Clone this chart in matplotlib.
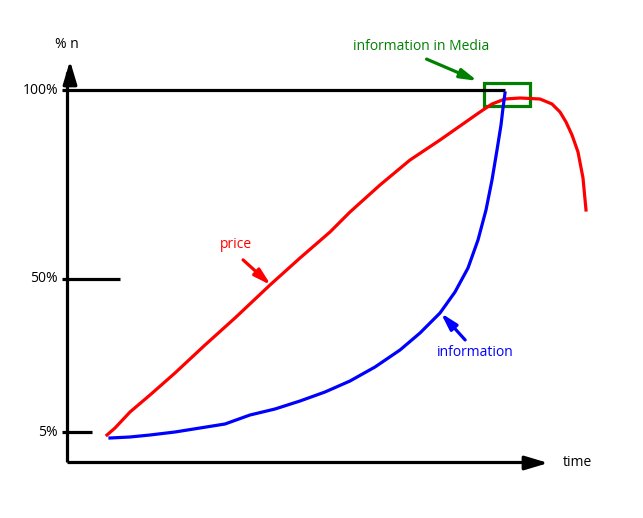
"""
Schema type "croquis" : prix vs diffusion de l'information dans le temps.
Coordonnees lues directement sur l'image de reference (repere en pixels).
"""
import matplotlib
matplotlib.use("Agg")
import matplotlib.pyplot as plt

W, H = 643, 518

# --- donnees (pixels, y vers le bas) -------------------------------------------
price_x = [107, 115, 130, 150, 175, 205, 235, 270, 300, 330, 350, 380, 410, 440,
           460, 480, 492, 505, 520, 540, 552, 560, 566, 572, 578, 583, 586]
price_y = [435, 428, 412, 395, 373, 345, 318, 285, 258, 232, 212, 185, 160, 140,
           126, 112, 104, 99, 98, 99, 104, 112, 122, 135, 152, 178, 210]

info_x = [110, 130, 150, 175, 200, 225, 250, 275, 300, 325, 350, 375, 400, 420,
          440, 455, 468, 478, 486, 492, 497, 501, 503, 505]
info_y = [438, 437, 435, 432, 428, 424, 415, 409, 401, 392, 381, 367, 350, 333,
          313, 292, 268, 240, 210, 180, 150, 125, 108, 93]

ticks_lbl = ["100%", "50%", "5%"]
ticks_y = [90, 279, 432]
ticks_end = [505, 120, 92]

fig = plt.figure(figsize=(W / 100, H / 100), dpi=100)
ax = fig.add_axes([0, 0, 1, 1])
ax.set_xlim(0, W)
ax.set_ylim(H, 0)
ax.axis("off")

lw = 2.3
fs = 10
font = "Open Sans"
big = "-|>,head_length=1.4,head_width=0.42"
small = "-|>,head_length=1.0,head_width=0.28"

# axes
ax.plot([67, 67], [462, 72], color="black", lw=lw, solid_capstyle="butt")
ax.plot([67, 535], [462, 462], color="black", lw=lw, solid_capstyle="butt")
ax.annotate("", xy=(70, 58), xytext=(70, 80),
            arrowprops=dict(arrowstyle=big, color="black", lw=lw))
ax.annotate("", xy=(551, 463), xytext=(530, 463),
            arrowprops=dict(arrowstyle=big, color="black", lw=lw))
ax.text(67, 44, "% n", ha="center", va="center", fontsize=fs, family=font)
ax.text(577, 463, "time", ha="center", va="center", fontsize=fs, family=font)

for lbl, y, x1 in zip(ticks_lbl, ticks_y, ticks_end):
    ax.plot([62, x1], [y, y], color="black", lw=lw, solid_capstyle="butt")
    ax.text(58, y, lbl, ha="right", va="center", fontsize=fs, family=font)

# courbes
ax.plot(price_x, price_y, color="red", lw=lw)
ax.plot(info_x, info_y, color="blue", lw=lw)

# encadre "information in Media"
ax.add_patch(plt.Rectangle((484, 83), 46, 23, fill=False, ec="green", lw=lw))
ax.annotate("", xy=(480, 82), xytext=(424, 58),
            arrowprops=dict(arrowstyle=small, color="green", lw=lw))
ax.text(421, 46, "information in Media", ha="center", va="center",
        fontsize=fs, color="green", family=font)

# etiquettes des courbes
ax.annotate("", xy=(273, 287), xytext=(241, 258),
            arrowprops=dict(arrowstyle=small, color="red", lw=lw))
ax.text(236, 245, "price", ha="center", va="center", fontsize=fs,
        color="red", family=font)

ax.annotate("", xy=(439, 311), xytext=(467, 342),
            arrowprops=dict(arrowstyle=small, color="blue", lw=lw))
ax.text(475, 352, "information", ha="center", va="center", fontsize=fs,
        color="blue", family=font)

fig.savefig("out.png", dpi=100)
